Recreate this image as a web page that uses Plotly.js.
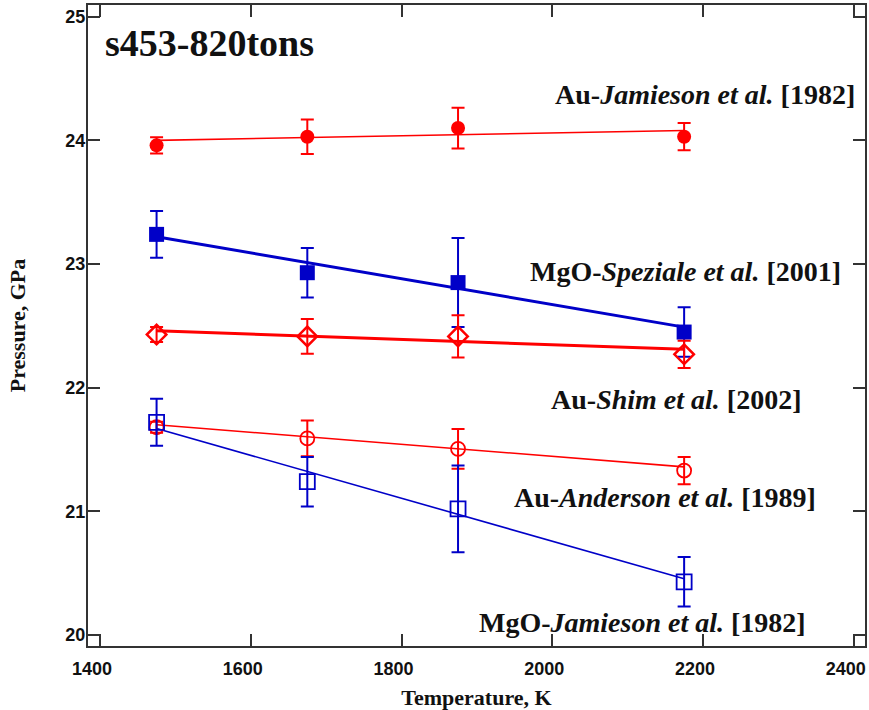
<!DOCTYPE html>
<html>
<head>
<meta charset="utf-8">
<script src="https://cdn.plot.ly/plotly-3.0.1.min.js"></script>
<style>html,body{margin:0;padding:0;background:#fff;}#chart{width:869px;height:710px;}</style>
</head>
<body>
<div id="chart"></div>
<script>
// Temperatures (K)
const temps = [1475, 1675, 1875, 2175];
const fitT = [1475, 2175];

// Au - Jamieson et al. [1982]
const auJam = [23.96, 24.03, 24.10, 24.03];
const auJamErr = [0.065, 0.14, 0.165, 0.11];
const auJamFit = [24.00, 24.08];

// MgO - Speziale et al. [2001]
const mgoSpz = [23.24, 22.93, 22.85, 22.45];
const mgoSpzErr = [0.19, 0.20, 0.36, 0.20];
const mgoSpzFit = [23.22, 22.49];

// Au - Shim et al. [2002]
const auShim = [22.43, 22.415, 22.415, 22.27];
const auShimErr = [0.06, 0.14, 0.17, 0.11];
const auShimFit = [22.46, 22.31];

// Au - Anderson et al. [1989]
const auAnd = [21.68, 21.59, 21.505, 21.33];
const auAndErr = [0.045, 0.145, 0.16, 0.11];
const auAndFit = [21.70, 21.36];

// MgO - Jamieson et al. [1982]
const mgoJam = [21.72, 21.24, 21.02, 20.43];
const mgoJamErr = [0.19, 0.20, 0.35, 0.20];
const mgoJamFit = [21.67, 20.455];

// Labels
const xTicks = [1400, 1600, 1800, 2000, 2200, 2400];
const yTicks = [20, 21, 22, 23, 24, 25];
const sampleLabel = 's453-820tons';
const seriesLabels = [
  '<b>Au-<i>Jamieson et al.</i> [1982]</b>',
  '<b>MgO-<i>Speziale et al.</i> [2001]</b>',
  '<b>Au-<i>Shim et al.</i> [2002]</b>',
  '<b>Au-<i>Anderson et al.</i> [1989]</b>',
  '<b>MgO-<i>Jamieson et al.</i> [1982]</b>'
];

const RED = '#ff0000';
const BLUE = '#0000c8';

function fitLine(y, color, w) {
  return {x: fitT, y: y, mode: 'lines', line: {color: color, width: w}, hoverinfo: 'skip', showlegend: false};
}
function pts(y, err, color, symbol, size, lw) {
  return {
    x: temps, y: y, mode: 'markers',
    marker: {color: color, symbol: symbol, size: size, line: {color: color, width: lw}},
    error_y: {type: 'data', array: err, visible: true, color: color, thickness: 2, width: 6.5},
    showlegend: false
  };
}

const data = [
  fitLine(auJamFit, RED, 1.6),
  fitLine(mgoSpzFit, BLUE, 3),
  fitLine(auShimFit, RED, 3),
  fitLine(auAndFit, RED, 1.6),
  fitLine(mgoJamFit, BLUE, 1.6),
  pts(auJam, auJamErr, RED, 'circle', 14, 0),
  pts(mgoSpz, mgoSpzErr, BLUE, 'square', 15, 0),
  pts(auShim, auShimErr, RED, 'diamond-open', 15, 2.5),
  pts(auAnd, auAndErr, RED, 'circle-open', 14, 1.8),
  pts(mgoJam, mgoJamErr, BLUE, 'square-open', 15, 1.8)
];

const serif = 'Liberation Serif, Times New Roman, serif';
const sans = 'Liberation Sans, Arial, sans-serif';
const labelPos = [
  [0.9897, 0.8596],
  [0.9717, 0.5835],
  [0.9202, 0.3853],
  [0.9395, 0.2309],
  [0.9266, 0.0374]
];
const annotations = seriesLabels.map((t, i) => ({
  text: t, xref: 'paper', yref: 'paper', x: labelPos[i][0], y: labelPos[i][1],
  xanchor: 'right', yanchor: 'middle', showarrow: false,
  font: {family: serif, size: 28, color: '#111'}
}));
annotations.push({
  text: '<b>' + sampleLabel + '</b>', xref: 'paper', yref: 'paper', x: 0.0193, y: 0.9407,
  xanchor: 'left', yanchor: 'middle', showarrow: false,
  font: {family: serif, size: 38, color: '#111'}
});

const axisCommon = {
  showgrid: false, zeroline: false, showline: true, linecolor: '#333', linewidth: 2,
  mirror: 'ticks', ticks: 'inside', ticklen: 12, tickwidth: 2, tickcolor: '#333',
  ticklabeloverflow: 'allow',
  tickfont: {family: sans, size: 18, color: '#111', weight: 'bold'}
};

const layout = {
  width: 869, height: 710,
  margin: {l: 88, r: 4, t: 5, b: 64},
  paper_bgcolor: '#fff', plot_bgcolor: '#fff',
  xaxis: Object.assign({}, axisCommon, {
    range: [1384, 2415], tickvals: xTicks, ticktext: xTicks.map(String),
    ticklabelshift: -8, ticklabelstandoff: 5,
    title: {text: '<b>Temperature, K</b>', font: {family: serif, size: 22, color: '#111'}, standoff: 14}
  }),
  yaxis: Object.assign({}, axisCommon, {
    range: [19.911, 25.095], tickvals: yTicks, ticktext: yTicks.map(String),
    ticklabelstandoff: -3,
    title: {text: '<b>Pressure, GPa</b>', font: {family: serif, size: 22, color: '#111'}, standoff: 34}
  }),
  annotations: annotations,
  showlegend: false
};

Plotly.newPlot('chart', data, layout, {staticPlot: true, displayModeBar: false});
</script>
</body>
</html>
